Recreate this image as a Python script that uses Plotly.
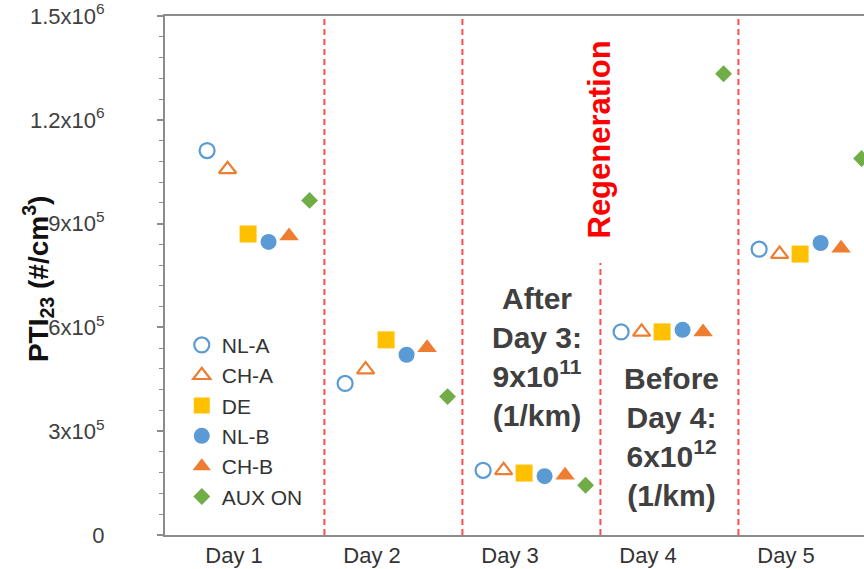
import plotly.graph_objects as go

days = ["Day 1", "Day 2", "Day 3", "Day 4", "Day 5"]
series_names = ["NL-A", "CH-A", "DE", "NL-B", "CH-B", "AUX ON"]
nl_a = [1.111e6, 4.38e5, 1.87e5, 5.87e5, 8.26e5]
ch_a = [1.057e6, 4.78e5, 1.87e5, 5.87e5, 8.12e5]
de = [8.70e5, 5.64e5, 1.79e5, 5.87e5, 8.12e5]
nl_b = [8.47e5, 5.21e5, 1.70e5, 5.93e5, 8.44e5]
ch_b = [8.64e5, 5.41e5, 1.73e5, 5.87e5, 8.29e5]
aux_on = [9.67e5, 4.00e5, 1.44e5, 1.333e6, 1.088e6]
y_ticks = [0, 3e5, 6e5, 9e5, 1.2e6, 1.5e6]
y_ticktext = ["0", "3x10<sup>5</sup>", "6x10<sup>5</sup>", "9x10<sup>5</sup>",
              "1.2x10<sup>6</sup>", "1.5x10<sup>6</sup>"]
y_title = "<b>PTI<sub>23</sub> (#/cm<sup>3</sup>)</b>"

values = [nl_a, ch_a, de, nl_b, ch_b, aux_on]
styles = [
    dict(symbol="circle-open", color="#5b9bd5", size=15, line=dict(width=2.2, color="#5b9bd5")),
    dict(symbol="triangle-up-open", color="#ed7d31", size=15, line=dict(width=2.2, color="#ed7d31")),
    dict(symbol="square", color="#ffc000", size=17),
    dict(symbol="circle", color="#5b9bd5", size=16),
    dict(symbol="triangle-up", color="#ed7d31", size=17),
    dict(symbol="diamond", color="#70ad47", size=13),
]
offsets = [-0.195 + 0.1485 * k for k in range(6)]
day_pos = list(range(1, len(days) + 1))

fig = go.Figure()
for k, (name, vals, st) in enumerate(zip(series_names, values, styles)):
    fig.add_trace(go.Scatter(
        x=[d + offsets[k] for d in day_pos], y=vals, mode="markers", name=name,
        marker=st, legendgroup=name, cliponaxis=False,
    ))

sep_color = "#ff4d4d"
for d in day_pos[:-1]:
    xs = d + 0.655
    top = 7.86e5 if d == 3 else 1.5e6
    fig.add_shape(type="line", xref="x", yref="y", x0=xs, x1=xs, y0=0, y1=top,
                  line=dict(color=sep_color, width=2, dash="6px,4px"), layer="below")

ann_font = dict(family="Liberation Sans, Arial", size=30, color="#404040")
fig.add_annotation(x=3.196, y=5.15e5, xref="x", yref="y", showarrow=False,
                   text="<b>After<br>Day 3:<br>9x10<sup>11</sup><br>(1/km)</b>",
                   font=ann_font, align="center")
fig.add_annotation(x=4.167, y=2.84e5, xref="x", yref="y", showarrow=False,
                   text="<b>Before<br>Day 4:<br>6x10<sup>12</sup><br>(1/km)</b>",
                   font=ann_font, align="center")
fig.add_annotation(x=3.652, y=1.143e6, xref="x", yref="y", showarrow=False,
                   text="<b>Regeneration</b>", textangle=-90,
                   font=dict(family="Liberation Sans, Arial", size=31, color="#ff0000"))
# y-axis title (placed as annotation to sit between the tick labels like the original)
fig.add_annotation(x=-0.1824, y=0.494, xref="paper", yref="paper", showarrow=False,
                   text=y_title, textangle=-90, xanchor="center", yanchor="middle",
                   font=dict(family="Liberation Sans, Arial", size=28, color="#111111"))

fig.update_layout(
    width=864, height=569,
    margin=dict(l=165, r=0, t=13, b=34),
    paper_bgcolor="white", plot_bgcolor="white",
    font=dict(family="Liberation Sans, Arial", color="#333333"),
    showlegend=True,
    legend=dict(x=0.024, y=0.405, xanchor="left", yanchor="top",
                bgcolor="rgba(0,0,0,0)", font=dict(size=21, color="#333333"),
                tracegroupgap=7, traceorder="normal", itemwidth=30),
    xaxis=dict(range=[0.5, 5.565], tickvals=day_pos, ticktext=days,
               showgrid=False, zeroline=False, showline=True, linecolor="#8c8c8c",
               linewidth=2, mirror=True, ticks="", tickfont=dict(size=22, color="#333333")),
    yaxis=dict(range=[0, 1.5e6], tickvals=y_ticks, ticktext=y_ticktext,
               showgrid=False, zeroline=False, showline=True, linecolor="#8c8c8c",
               linewidth=2, ticks="outside", ticklen=6, tickwidth=1.5, tickcolor="#8c8c8c",
               minor=dict(dtick=6e4, ticks="outside", ticklen=4, tickcolor="#8c8c8c", tickwidth=1.2),
               tickfont=dict(size=22, color="#404040"), ticklabelstandoff=48,
               ticklabeloverflow="allow"),
)

fig.write_html("out.html")
